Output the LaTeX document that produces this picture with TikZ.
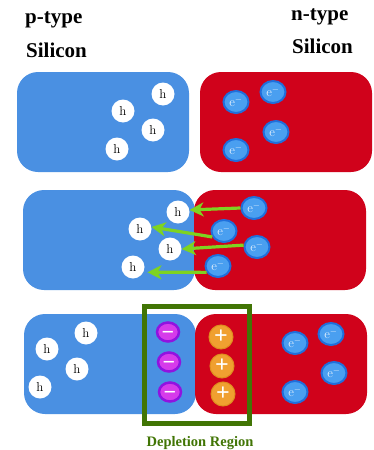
\documentclass[tikz,border=0pt]{standalone}
\usepackage{fontspec}
\usepackage{amsmath}
\usepackage{tikz}
\usetikzlibrary{positioning}
\usetikzlibrary{arrows.meta}
\usetikzlibrary{shapes.geometric}
\newfontfamily\titlefont{Liberation Serif}

\definecolor{ptype}{HTML}{4A90E2}
\definecolor{ntype}{HTML}{D0021B}
\definecolor{drift}{HTML}{7ED321}
\definecolor{depl}{HTML}{417505}
\definecolor{elecfill}{HTML}{4A9FF0}
\definecolor{elecline}{HTML}{1F6FDC}
\definecolor{accfill}{HTML}{D63BEA}
\definecolor{accline}{HTML}{9013E0}
\definecolor{donfill}{HTML}{F0A030}
\definecolor{donline}{HTML}{DE8E1E}

\newcommand{\negion}{\raisebox{-7pt}[0pt][0pt]{−}}
\newcommand{\posion}{\raisebox{-6.5pt}[0pt][0pt]{+}}

\tikzset{
    slab/.style={rectangle, rounded corners=21pt, minimum width=172pt, minimum height=100pt, inner sep=0pt},
    hole/.style={circle, fill=white, minimum size=23pt, inner sep=0pt, font=\fontsize{13}{13}\selectfont},
    electron/.style={ellipse, fill=elecfill, draw=elecline, line width=2pt, minimum width=25pt, minimum height=22pt, inner sep=0pt, text=white!85!elecfill, font=\fontsize{13}{13}\selectfont},
    acceptor/.style={ellipse, fill=accfill, draw=accline, line width=2.5pt, minimum width=22pt, minimum height=19pt, inner sep=0pt, text=white, font=\titlefont\bfseries\fontsize{22}{22}\selectfont},
    donor/.style={circle, fill=donfill, draw=donline, line width=1pt, minimum size=24pt, inner sep=0pt, text=white, font=\titlefont\bfseries\fontsize{24}{24}\selectfont},
    carrier/.style={-{Stealth[length=14pt, width=14pt, inset=4pt]}, draw=drift, line width=3.2pt},
    heading/.style={inner sep=0pt, font=\titlefont\bfseries\fontsize{21}{21}\selectfont},
}

\begin{document}
\begin{tikzpicture}[x=1pt, y=1pt, node distance=20pt, on grid]
    \useasboundingbox (0,0) rectangle (373,-450);

    % titles
    \node[heading, anchor=west] (p1) at (25,-20) {p-type};
    \node[heading, anchor=west] (p2) at (26,-50) {Silicon};
    \node[heading, anchor=west] (n1) at (291,-17) {n-type};
    \node[heading, anchor=west] (n2) at (292,-46) {Silicon};

    % separate slabs
    \node[slab, fill=ptype] (pa) at (103,-122) {};
    \node[slab, fill=ntype] (na) at (286,-122) {};
    \node[hole] (a1) at (163,-94) {h};
    \node[hole, below left=17pt and 40pt of a1] (a2) {h};
    \node[hole, below right=19pt and 30pt of a2] (a3) {h};
    \node[hole, below left=19pt and 36pt of a3] (a4) {h};
    \node[electron] (ea1) at (236,-102) {e$^-$};
    \node[electron, above right=10pt and 37pt of ea1] (ea2) {e$^-$};
    \node[electron, below right=40pt and 3pt of ea2] (ea3) {e$^-$};
    \node[electron, below=48pt of ea1] (ea4) {e$^-$};

    % joined slabs
    \node[slab, fill=ptype] (pb) at (109,-240) {};
    \node[slab, fill=ntype] (nb) at (280,-240) {};
    \node[hole] (b1) at (178,-212) {h};
    \node[hole, below left=17pt and 38pt of b1] (b2) {h};
    \node[hole, below right=20pt and 30pt of b2] (b3) {h};
    \node[hole, below left=18pt and 37pt of b3] (b4) {h};
    \node[electron] (eb1) at (254,-208) {e$^-$};
    \node[electron, below left=23pt and 30pt of eb1] (eb2) {e$^-$};
    \node[electron, below right=16pt and 33pt of eb2] (eb3) {e$^-$};
    \node[electron, below left=19pt and 39pt of eb3] (eb4) {e$^-$};

    \draw[carrier] (eb1.180) -- (b1.10);
    \draw[carrier] (eb2.207) -- (b2.10);
    \draw[carrier] (eb3.172) -- (b3.0);
    \draw[carrier, shorten >=4pt] (eb4.209) -- (b4.-27);

    % depletion layer formed
    \node[slab, fill=ptype] (pc) at (110,-364) {};
    \node[slab, fill=ntype] (nc) at (281,-364) {};
    \node[hole] (c1) at (86,-333) {h};
    \node[hole, below left=16pt and 39pt of c1] (c2) {h};
    \node[hole, below right=20pt and 30pt of c2] (c3) {h};
    \node[hole, below left=18pt and 37pt of c3] (c4) {h};
    \node[electron] (ec1) at (295,-343) {e$^-$};
    \node[electron, above right=9pt and 36pt of ec1] (ec2) {e$^-$};
    \node[electron, below right=39pt and 3pt of ec2] (ec3) {e$^-$};
    \node[electron, below=49pt of ec1] (ec4) {e$^-$};

    \node[acceptor] (m1) at (168,-332) {\negion};
    \node[acceptor, below right=30pt and 1pt of m1] (m2) {\negion};
    \node[acceptor, below right=30pt and 1pt of m2] (m3) {\negion};
    \node[donor] (d1) at (221,-337) {\posion};
    \node[donor, below right=29pt and 1pt of d1] (d2) {\posion};
    \node[donor, below right=28pt and 1pt of d2] (d3) {\posion};

    \node[rectangle, draw=depl, line width=5pt, minimum width=105pt, minimum height=117pt, inner sep=0pt] (box) at (197,-365) {};
    \node[below right=78.5pt and 3pt of box, text=depl, inner sep=0pt, font=\titlefont\bfseries\fontsize{14.5}{14.5}\selectfont] (lbl) {Depletion Region};
\end{tikzpicture}
\end{document}
